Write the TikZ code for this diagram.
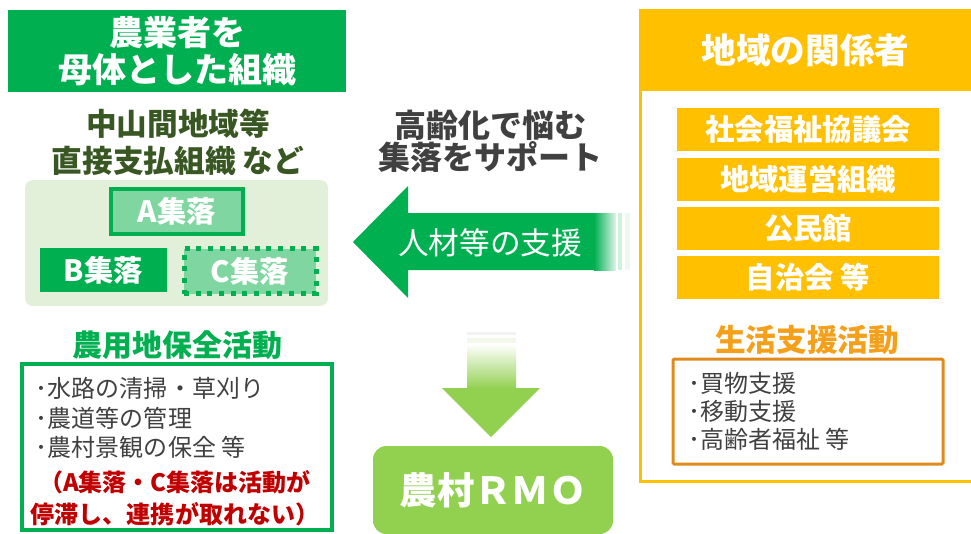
\documentclass[tikz,border=0pt]{standalone}
\usepackage{fontspec}
\setmainfont{Noto Sans CJK JP}
\usepackage{tikz}
\pgfdeclarelayer{bg}
\pgfsetlayers{bg,main}
\definecolor{agri}{HTML}{00B050}
\definecolor{agrilight}{HTML}{7FD6A0}
\definecolor{panel}{HTML}{E2F0D9}
\definecolor{olive}{HTML}{385723}
\definecolor{rmo}{HTML}{92D050}
\definecolor{gold}{HTML}{FFC000}
\definecolor{ochre}{HTML}{F5A01A}
\definecolor{ochreline}{HTML}{E08A1C}
\definecolor{ink}{HTML}{404040}
\definecolor{alert}{HTML}{C00000}
\tikzset{
    every node/.style={inner sep=0mm, outer sep=0mm}
}
\tikzset{
    title/.style={rectangle, text=white, align=center, font=\fontsize{25.5}{27.75}\selectfont\bfseries},
    head/.style={align=center, font=\fontsize{23}{27.75}\selectfont\bfseries},
    tag/.style={rectangle, text=white, minimum width=99pt, minimum height=33.75pt, font=\fontsize{22}{22}\selectfont\bfseries},
    role/.style={rectangle, fill=gold, text=white, minimum width=196.5pt, minimum height=32.25pt, font=\fontsize{22}{22}\selectfont\bfseries},
    item/.style={anchor=west, text=ink, font=\fontsize{18}{18}\selectfont}
}

\begin{document}
\begin{tikzpicture}[x=0.75pt, y=-0.75pt]
        \useasboundingbox (0,0) rectangle (971,533);
        \node (h0) [title, fill=agri, minimum width=253.5pt, minimum height=61.5pt] at (177,51) {農業者を\\母体とした組織};
        \node (h1) [head, text=olive] at (178,142) {中山間地域等\\直接支払組織 など};
        \node (a) [tag, fill=agrilight, draw=agri, line width=3pt] at (177,211.5) {A集落};
        \node (b) [tag, fill=agri, minimum width=95.25pt, minimum height=33pt] at (103.5,270) {B集落};
        \node (c) [tag, fill=agrilight, draw=agri, line width=3.75pt, dash pattern=on 3.75pt off 5pt] at (250,271) {C集落};
        \node (g0) [head, text=agri, font=\fontsize{22.5}{22.5}\selectfont\bfseries] at (177,345) {農用地保全活動};
        \node (g1) [item] at (36,388) {･水路の清掃・草刈り};
        \node (g2) [item] at (36,418) {･農道等の管理};
        \node (g3) [item] at (36,447) {･農村景観の保全 等};
        \node (g4) [align=center, text=alert, font=\fontsize{18}{24}\selectfont\bfseries] at (175,498) {（A集落・C集落は活動が\\停滞し、連携が取れない）};
        \node (m0) [head, text=ink, font=\fontsize{24}{24}\selectfont\bfseries] at (490,141) {高齢化で悩む\\集落をサポート};
        \node (m1) [text=white, font=\fontsize{23}{23}\selectfont] at (490,243) {人材等の支援};
        \node (rmo) [rectangle, rounded corners=10pt, fill=rmo, text=white, minimum width=180pt, minimum height=66pt, font=\fontsize{28}{28}\selectfont\bfseries] at (493,490) {農村ＲＭＯ};
        \node (fr) [rectangle, draw=gold, line width=2.25pt, minimum width=255pt, minimum height=353.25pt] at (810,245.5) {};
        \node (h2) [title, fill=gold, minimum width=249.75pt, minimum height=60.75pt, font=\fontsize{26}{26}\selectfont\bfseries] at (805.5,50) {地域の関係者};
        \node (r1) [role] at (808,129.5) {社会福祉協議会};
        \node (r2) [role] at (808,179.5) {地域運営組織};
        \node (r3) [role] at (808,228) {公民館};
        \node (r4) [role] at (808,277) {自治会 等};
        \node (s0) [head, text=ochre] at (807,340) {生活支援活動};
        \node (s1) [item] at (688,383) {･買物支援};
        \node (s2) [item] at (688,411) {･移動支援};
        \node (s3) [item] at (688,439) {･高齢者福祉 等};
        \begin{pgfonlayer}{bg}
                \node (p0) [rectangle, fill=panel, rounded corners=6pt, minimum width=227.25pt, minimum height=94.5pt] at (176.5,243) {};
                \node (g) [rectangle, draw=agri, line width=2.5pt, minimum width=232.5pt, minimum height=124.5pt] at (177,447) {};
                \node (s) [rectangle, draw=ochreline, line width=2.25pt, rounded corners=1pt, minimum width=202.5pt, minimum height=78.75pt] at (808,411.5) {};
                % support arrow, fading out to the right
                \fill [agri] (353,242) -- (408,186) -- (408,213) -- (595,213) -- (595,270) -- (408,270) -- (408,298) -- cycle;
                \shade [left color=agri, right color=agri!12] (594,213) rectangle (616,270);
                \fill [agri!18] (618,213) rectangle (622,270);
                \fill [agri!8] (625,213) rectangle (630,270);
                % arrow down to the RMO
                \fill [gray!10] (467,332) rectangle (516,335);
                \fill [rmo!12] (467,338) rectangle (516,343);
                \shade [top color=white, bottom color=rmo] (467,344) rectangle (516,389);
                \fill [rmo] (442,388) -- (540,388) -- (491,437) -- cycle;
        \end{pgfonlayer}
\end{tikzpicture}
\end{document}
